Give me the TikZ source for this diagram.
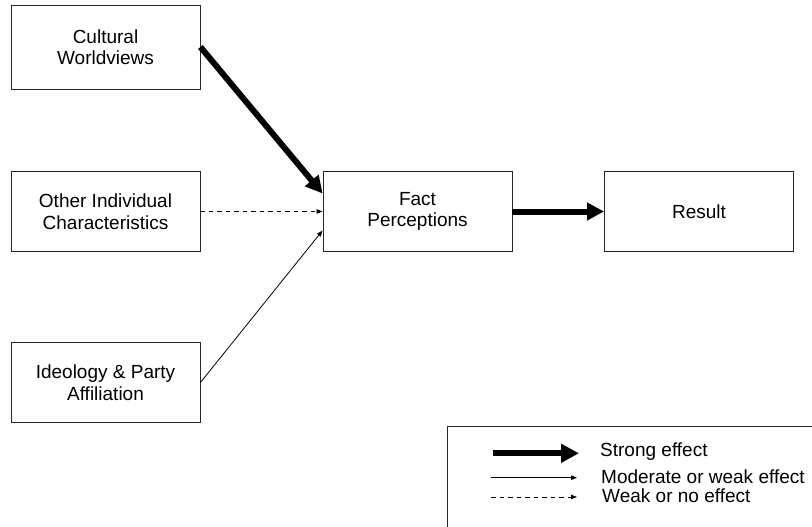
\documentclass[tikz,border=0pt]{standalone}
\usepackage{fontspec}
\setmainfont{Liberation Sans}
\usepackage{tikz}
\usetikzlibrary{arrows.meta}
\tikzstyle{factor} = [rectangle, minimum width=189pt, minimum height=80pt, text centered, align=center, draw=black!85, line width=0.9pt, font=\fontsize{19pt}{21.5pt}\selectfont]
\tikzstyle{legtext} = [anchor=base west, inner sep=0pt, font=\fontsize{19pt}{21.5pt}\selectfont]
\tikzstyle{strongarrow} = [line width=6pt, -{Triangle[length=17pt,width=17pt]}]
\tikzstyle{modarrow} = [line width=0.8pt, -{Triangle[length=6pt,width=4.5pt]}]
\tikzstyle{weakarrow} = [line width=0.8pt, dash pattern=on 4.5pt off 4pt, -{Triangle[length=6pt,width=4.5pt]}]

\begin{document}
\begin{tikzpicture}[x=1pt, y=1pt, node distance=168pt]
		\useasboundingbox (0,0) rectangle (812,-527);
		\node (cult) [factor, minimum height=84pt] at (105.5,-47) {Cultural\\Worldviews};
		\node (other) [factor, below of=cult, yshift=3.5pt] {Other Individual\\Characteristics};
		\node (ideo) [factor, below of=other, yshift=-3pt] {Ideology \& Party\\Affiliation};
		\node (fact) [factor, right of=other, xshift=144pt] {Fact\\Perceptions};
		\node (result) [factor, right of=fact, xshift=113.5pt] {Result};
		
		\draw [strongarrow] (cult.east) -- ([yshift=18pt]fact.west);
		\draw [weakarrow] (other.east) -- (fact.west);
		\draw [modarrow] (ideo.east) -- ([yshift=-19pt]fact.west);
		\draw [strongarrow] (fact.east) -- (result.west);
		
		% legend
		\draw [draw=black!85, line width=0.9pt] (447,-528) |- (813,-426);
		\node (strongtxt) [legtext] at (600,-456.7) {Strong effect};
		\node (modtxt) [legtext] at (601,-483.3) {Moderate or weak effect};
		\node (weaktxt) [legtext] at (602,-502.7) {Weak or no effect};
		\coordinate (s1) at (493,-453.3);
		\coordinate (s2) at (579,-453.3);
		\coordinate (m1) at (491,-477.7);
		\coordinate (m2) at (577,-477.7);
		\coordinate (w1) at (491,-497);
		\coordinate (w2) at (577,-497);
		\draw [strongarrow, -{Triangle[length=18pt,width=18pt]}] (s1) -- (s2);
		\draw [modarrow] (m1) -- (m2);
		\draw [weakarrow] (w1) -- (w2);
	\end{tikzpicture}
\end{document}
